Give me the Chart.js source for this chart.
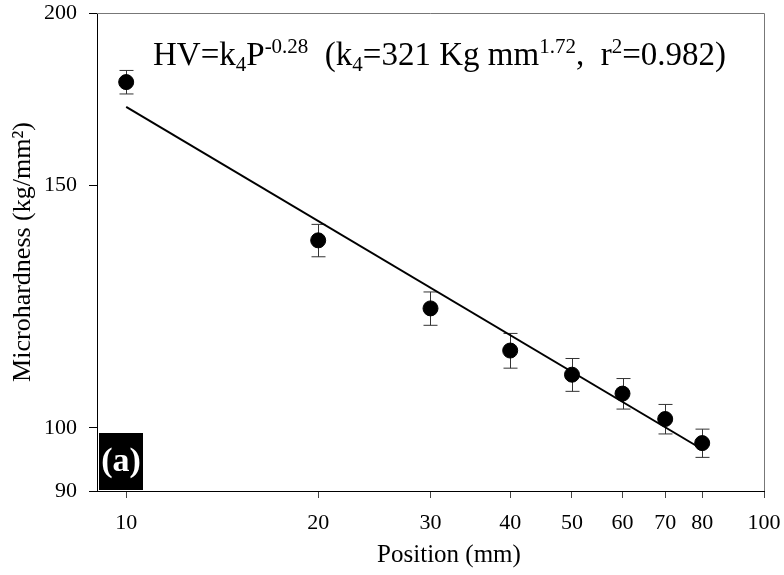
<!DOCTYPE html>
<html>
<head>
<meta charset="utf-8">
<script src="https://cdn.jsdelivr.net/npm/chart.js@4.4.1/dist/chart.umd.min.js"></script>
<style>
  body { margin: 0; background: #fff; }
  #wrap { width: 784px; height: 575px; position: relative; }
</style>
</head>
<body>
<div id="wrap"><canvas id="chart"></canvas></div>
<script>
// data
var positions = [10, 20, 30, 40, 50, 60, 70, 80]
var hardness = [178.2, 136.8, 122.1, 113.8, 109.3, 105.9, 101.5, 97.5]
var errors = [3.5, 3.7, 3.4, 3.3, 3.0, 2.7, 2.5, 2.3]
var fitX = [10, 80]
var fitY = [171, 96.5]
var xTicks = [10, 20, 30, 40, 50, 60, 70, 80, 100]
var yTicks = [90, 100, 150, 200]

var serif = "'Liberation Serif', 'Times New Roman', serif"

var pts = positions.map(function(p, i){ return {x: p, y: hardness[i]} })
var fitPts = fitX.map(function(p, i){ return {x: p, y: fitY[i]} })

// error bars, frame, labels and the equation
var extras = {
  id: 'extras',
  beforeDatasetsDraw: function(chart){
    var ctx = chart.ctx, xs = chart.scales.x, ys = chart.scales.y
    ctx.save()
    ctx.strokeStyle = '#333'
    ctx.lineWidth = 1
    for (var i = 0; i < positions.length; i++) {
      var px = Math.round(xs.getPixelForValue(positions[i])) + 0.5
      var top = ys.getPixelForValue(hardness[i] + errors[i])
      var bot = ys.getPixelForValue(hardness[i] - errors[i])
      ctx.beginPath()
      ctx.moveTo(px, top); ctx.lineTo(px, bot)
      ctx.moveTo(px - 7, top); ctx.lineTo(px + 7, top)
      ctx.moveTo(px - 7, bot); ctx.lineTo(px + 7, bot)
      ctx.stroke()
    }
    ctx.restore()
  },
  afterDraw: function(chart){
    var ctx = chart.ctx, a = chart.chartArea
    ctx.save()
    // top and right frame
    ctx.strokeStyle = '#777'
    ctx.lineWidth = 1
    ctx.beginPath()
    ctx.moveTo(a.left, a.top + 0.5); ctx.lineTo(a.right + 0.5, a.top + 0.5)
    ctx.lineTo(a.right + 0.5, a.bottom)
    ctx.stroke()

    // axis titles
    ctx.fillStyle = '#000'
    ctx.font = '25px ' + serif
    ctx.textAlign = 'center'
    ctx.textBaseline = 'alphabetic'
    ctx.fillText('Position (mm)', 449, 562)
    ctx.font = '26px ' + serif
    ctx.translate(30, 252)
    ctx.rotate(-Math.PI / 2)
    ctx.fillText('Microhardness (kg/mm²)', 0, 0)
    ctx.setTransform(1, 0, 0, 1, 0, 0)

    // (a) tag
    ctx.fillStyle = '#000'
    ctx.fillRect(99, 433, 44, 57)
    ctx.fillStyle = '#fff'
    ctx.font = 'bold 34px ' + serif
    ctx.textAlign = 'center'
    ctx.fillText('(a)', 121, 471)

    // equation
    var parts = [
      ['HV=k', 0], ['4', 1], ['P', 0], ['-0.28', 2], ['  (k', 0], ['4', 1],
      ['=321 Kg mm', 0], ['1.72', 2], [',  r', 0], ['2', 2], ['=0.982)', 0]
    ]
    var x = 153, base = 65
    ctx.fillStyle = '#000'
    ctx.textAlign = 'left'
    parts.forEach(function(p){
      if (p[1] == 0) { ctx.font = '33px ' + serif; ctx.fillText(p[0], x, base) }
      else if (p[1] == 1) { ctx.font = '21px ' + serif; ctx.fillText(p[0], x, base + 6) }
      else { ctx.font = '21px ' + serif; ctx.fillText(p[0], x, base - 12) }
      x += ctx.measureText(p[0]).width
    })
    ctx.restore()
  }
}

new Chart(document.getElementById('chart'), {
  type: 'scatter',
  data: {
    datasets: [{
      data: pts,
      backgroundColor: '#000',
      borderColor: '#000',
      pointRadius: 7.5,
      pointHoverRadius: 7.5
    }, {
      type: 'line',
      data: fitPts,
      showLine: true,
      borderColor: '#000',
      borderWidth: 2,
      pointRadius: 0,
      fill: false
    }]
  },
  options: {
    responsive: true,
    maintainAspectRatio: false,
    animation: false,
    layout: { padding: { top: 13, right: 20, left: 0, bottom: 0 } },
    plugins: { legend: { display: false }, tooltip: { enabled: false } },
    scales: {
      x: {
        type: 'logarithmic',
        min: 9, max: 100,
        afterBuildTicks: function(s){ s.ticks = xTicks.map(function(v){ return {value: v} }) },
        afterFit: function(s){ s.height = 84; s.paddingLeft = 0; s.paddingRight = 0 },
        ticks: {
          color: '#000', font: { family: serif, size: 22 }, padding: 12,
          maxRotation: 0, autoSkip: false,
          callback: function(v){ return v }
        },
        grid: { drawOnChartArea: false, tickLength: 7, tickColor: '#444' },
        border: { color: '#000', width: 1 }
      },
      y: {
        type: 'logarithmic',
        min: 90, max: 200,
        afterBuildTicks: function(s){ s.ticks = yTicks.map(function(v){ return {value: v} }) },
        afterFit: function(s){ s.width = 97; s.paddingTop = 0; s.paddingBottom = 0 },
        ticks: {
          color: '#000', font: { family: serif, size: 22 }, padding: 12,
          autoSkip: false,
          callback: function(v){ return v }
        },
        grid: { drawOnChartArea: false, tickLength: 8, tickColor: '#000' },
        border: { color: '#000', width: 1 }
      }
    }
  },
  plugins: [extras]
})
</script>
</body>
</html>
